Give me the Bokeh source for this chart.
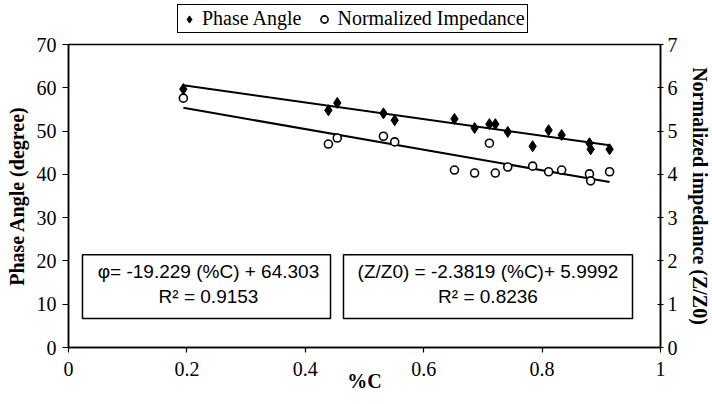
from bokeh.plotting import figure
from bokeh.layouts import column
from bokeh.models import (Range1d, LinearAxis, FixedTicker, NumeralTickFormatter,
                          Legend, LegendItem, BoxAnnotation, Label)
from bokeh.embed import file_html
from bokeh.resources import INLINE

# ---- data ----
carbon = [0.194, 0.439, 0.454, 0.532, 0.551, 0.652, 0.686, 0.711, 0.721, 0.742,
          0.784, 0.811, 0.833, 0.880, 0.882, 0.914]
phase_angle = [59.7, 54.8, 56.5, 54.1, 52.5, 52.8, 50.7, 51.6, 51.6, 49.8,
               46.5, 50.2, 49.1, 47.2, 45.8, 45.8]
norm_imp = [5.76, 4.70, 4.84, 4.88, 4.75, 4.10, 4.03, 4.72, 4.03, 4.17,
            4.19, 4.06, 4.10, 4.01, 3.85, 4.06]

phase_fit = (-19.229, 64.303)   # slope, intercept
imp_fit = (-2.3819, 5.9992)
x_ticks = [0, 0.2, 0.4, 0.6, 0.8, 1]
left_ticks = [0, 10, 20, 30, 40, 50, 60, 70]
right_ticks = [0, 1, 2, 3, 4, 5, 6, 7]
eq_phase = ["φ= -19.229 (%C) + 64.303", "R² = 0.9153"]
eq_imp = ["(Z/Z0) = -2.3819 (%C)+ 5.9992", "R² = 0.8236"]
series_names = ["Phase Angle", "Normalized Impedance"]

SERIF = "Liberation Serif"
SANS = "Liberation Sans"
LEFT = 68

p = figure(frame_width=592, frame_height=303, output_backend="svg",
           toolbar_location=None, x_range=Range1d(0, 1), y_range=Range1d(0, 70),
           min_border_left=LEFT, min_border_top=10, min_border_right=40,
           min_border_bottom=40, background_fill_color="white",
           border_fill_color="white")
p.extra_y_ranges = {"imp": Range1d(0, 7)}
p.grid.visible = False
p.outline_line_color = "black"
p.outline_line_width = 1.5

def style_axis(ax, tick_in, tick_out, standoff):
    ax.axis_line_color = "black"
    ax.axis_line_width = 1.5
    ax.major_tick_line_color = "black"
    ax.major_tick_line_width = 1.2
    ax.major_tick_in = tick_in
    ax.major_tick_out = tick_out
    ax.minor_tick_line_color = None
    ax.major_label_text_font = SERIF
    ax.major_label_text_font_size = "20px"
    ax.major_label_text_color = "black"
    ax.major_label_standoff = standoff
    ax.axis_label_text_font = SERIF
    ax.axis_label_text_font_style = "bold"
    ax.axis_label_text_font_size = "20px"
    ax.axis_label_text_color = "black"

xa = p.xaxis[0]
xa.ticker = FixedTicker(ticks=x_ticks)
xa.formatter = NumeralTickFormatter(format="0.[0]")
xa.axis_label = "%C"
style_axis(xa, 0, 5, 9)
xa.axis_label_standoff = -9

ya = p.yaxis[0]
ya.ticker = FixedTicker(ticks=left_ticks)
ya.axis_label = "Phase Angle (degree)"
style_axis(ya, 0, 6, 6)
ya.axis_label_standoff = 6

ra = LinearAxis(y_range_name="imp", ticker=FixedTicker(ticks=right_ticks),
                axis_label="Normalized impedance (Z/Z0)")
style_axis(ra, 3, 3, 4)
ra.axis_label_standoff = 8
p.add_layout(ra, "right")

# trend lines
xs = [min(carbon), max(carbon)]
p.line(xs, [phase_fit[0] * v + phase_fit[1] for v in xs], line_color="black", line_width=2)
p.line(xs, [imp_fit[0] * v + imp_fit[1] for v in xs], line_color="black", line_width=2,
       y_range_name="imp")

p.scatter(carbon, phase_angle, marker="diamond", size=11,
          fill_color="black", line_color="black")
p.scatter(carbon, norm_imp, marker="circle", size=8, fill_color="white",
          line_color="black", line_width=1.6, y_range_name="imp")

# equation boxes
for (l, r) in [(0.0236, 0.4426), (0.4645, 0.9527)]:
    p.add_layout(BoxAnnotation(left=l, right=r, bottom=6.7, top=21.4,
                               fill_color="white", fill_alpha=1.0,
                               line_color="black", line_alpha=1.0, line_width=1.5))
for cx, lines in [(0.2365, eq_phase), (0.7086, eq_imp)]:
    for yv, t in zip([17.5, 11.7], lines):
        p.add_layout(Label(x=cx, y=yv, text=t, text_align="center",
                           text_baseline="middle", text_font=SANS,
                           text_font_size="19px", text_color="black"))

# legend strip above the plot (its own small figure; the series are drawn there
# too but fall outside its 0..1 y range, so only the legend shows)
lg = figure(frame_width=592, frame_height=34, output_backend="svg",
            toolbar_location=None, x_range=Range1d(0, 1), y_range=Range1d(0, 1),
            x_axis_type=None, y_axis_type=None, min_border_left=LEFT,
            min_border_top=0, min_border_bottom=0, min_border_right=40,
            background_fill_color="white", border_fill_color="white")
lg.grid.visible = False
lg.outline_line_color = None
d1 = lg.scatter(carbon, phase_angle, marker="diamond", size=11,
                fill_color="black", line_color="black")
d2 = lg.scatter(carbon, [v * 10 for v in norm_imp], marker="circle", size=8,
                fill_color="white", line_color="black", line_width=1.6)
legend = Legend(items=[LegendItem(label=series_names[0], renderers=[d1]),
                       LegendItem(label=series_names[1], renderers=[d2])],
                orientation="horizontal", location=(109, 1),
                label_text_font=SERIF, label_text_font_size="20px",
                label_text_color="black", label_height=20, glyph_height=22,
                glyph_width=18, label_standoff=4, spacing=14, padding=2,
                margin=0, border_line_color="black", border_line_alpha=1.0,
                border_line_width=1.5,
                background_fill_color="white", background_fill_alpha=1.0)
lg.add_layout(legend, "center")

layout = column(lg, p, spacing=0)
open("out.html", "w").write(file_html(layout, INLINE))
